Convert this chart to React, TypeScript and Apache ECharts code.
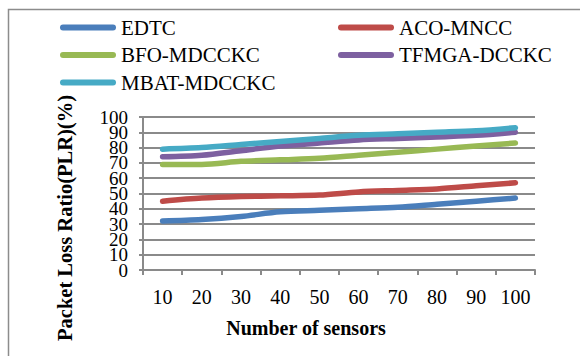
import React, { useEffect, useRef } from "react";
import * as echarts from "echarts";

const categories = ["10", "20", "30", "40", "50", "60", "70", "80", "90", "100"];
const seriesNames = ["EDTC", "ACO-MNCC", "BFO-MDCCKC", "TFMGA-DCCKC", "MBAT-MDCCKC"];
const seriesColors = ["#4A7EBB", "#BE4B48", "#98B954", "#7D60A0", "#46AAC5"];
const edtc = [32, 33, 35, 38, 39, 40, 41, 43, 45, 47];
const acoMncc = [45, 47, 48, 48.5, 49, 51, 52, 53, 55, 57];
const bfoMdcckc = [69, 69, 71, 72, 73, 75, 77, 79, 81, 83];
const tfmgaDcckc = [74, 75, 78, 81, 83, 85, 86, 87, 88, 90];
const mbatMdcckc = [79, 80, 82, 84, 86, 88, 89, 90, 91, 93];
const seriesValues = [edtc, acoMncc, bfoMdcckc, tfmgaDcckc, mbatMdcckc];
const xAxisTitle = "Number of sensors";
const yAxisTitle = "Packet Loss Ratio(PLR)(%)";

const FONT = "Liberation Serif";
const GRAY = "#8a8a8a";
const ICON = "path://M3,0 L53,0 A3,3 0 0 1 53,6 L3,6 A3,3 0 0 1 3,0 Z";

export default function App() {
  const ref = useRef<HTMLDivElement>(null);
  useEffect(() => {
    if (!ref.current) return;
    const chart = echarts.init(ref.current, null, { renderer: "svg" });
    const legendCommon = {
      orient: "vertical" as const,
      icon: ICON,
      itemWidth: 56,
      itemHeight: 6,
      itemGap: 6.5,
      textStyle: { fontFamily: FONT, fontSize: 21, color: "#000", lineHeight: 21 },
      selectedMode: false,
    };
    const yLabel = (keepOdd: boolean) => ({
      fontFamily: FONT,
      fontSize: 19,
      lineHeight: 15,
      color: "#000",
      margin: 15,
      interval: 0,
      showMinLabel: true,
      showMaxLabel: true,
      hideOverlap: false,
      formatter: (v: number) => ((Math.round(v / 10) % 2 === 1) === keepOdd ? String(v) : ""),
    });
    chart.setOption({
      animation: false,
      backgroundColor: "#fff",
      textStyle: { fontFamily: FONT },
      legend: [
        { ...legendCommon, left: 55, top: 12, data: [seriesNames[0], seriesNames[2], seriesNames[4]] },
        { ...legendCommon, left: 333, top: 12, data: [seriesNames[1], seriesNames[3]] },
      ],
      grid: { left: 143, right: 45, top: 117, bottom: 86, containLabel: false },
      xAxis: {
        type: "category",
        data: categories,
        boundaryGap: true,
        axisLine: { lineStyle: { color: GRAY, width: 2 } },
        axisTick: { show: true, length: 5, lineStyle: { color: GRAY, width: 2 } },
        axisLabel: { fontFamily: FONT, fontSize: 20, color: "#000", margin: 17, interval: 0 },
        splitLine: { show: false },
      },
      yAxis: [
        {
          type: "value",
          min: 0,
          max: 100,
          interval: 10,
          position: "left",
          axisLine: { show: true, lineStyle: { color: GRAY, width: 2 } },
          axisTick: { show: true, length: 4, lineStyle: { color: GRAY, width: 2 } },
          axisLabel: yLabel(false),
          splitLine: { show: true, lineStyle: { color: GRAY, width: 2 } },
        },
        {
          type: "value",
          min: 0,
          max: 100,
          interval: 10,
          position: "left",
          offset: 0,
          axisLine: { show: false },
          axisTick: { show: false },
          axisLabel: yLabel(true),
          splitLine: { show: false },
        },
      ],
      series: seriesNames.map((name, i) => ({
        name,
        type: "line",
        yAxisIndex: 0,
        data: seriesValues[i],
        smooth: 0.3,
        symbol: "none",
        itemStyle: { color: seriesColors[i] },
        lineStyle: { color: seriesColors[i], width: 5.5, cap: "round" },
      })),
      graphic: [
        {
          type: "rect",
          shape: { x: 8.5, y: 9.5, width: 700, height: 500 },
          style: { fill: "none", stroke: "#8c8c8c", lineWidth: 1.5 },
          silent: true,
        },
        {
          type: "text",
          x: 306,
          y: 328,
          style: {
            text: xAxisTitle,
            fontFamily: FONT,
            fontSize: 20,
            fontWeight: "bold",
            fill: "#000",
            align: "center",
            verticalAlign: "middle",
          },
        },
        {
          type: "text",
          x: 65,
          y: 218,
          rotation: Math.PI / 2,
          style: {
            text: yAxisTitle,
            fontFamily: FONT,
            fontSize: 20.5,
            fontWeight: "bold",
            fill: "#000",
            align: "center",
            verticalAlign: "middle",
          },
        },
      ],
    });
    return () => chart.dispose();
  }, []);
  return <div ref={ref} style={{ width: 580, height: 356, position: "absolute", left: 0, top: 0 }} />;
}
